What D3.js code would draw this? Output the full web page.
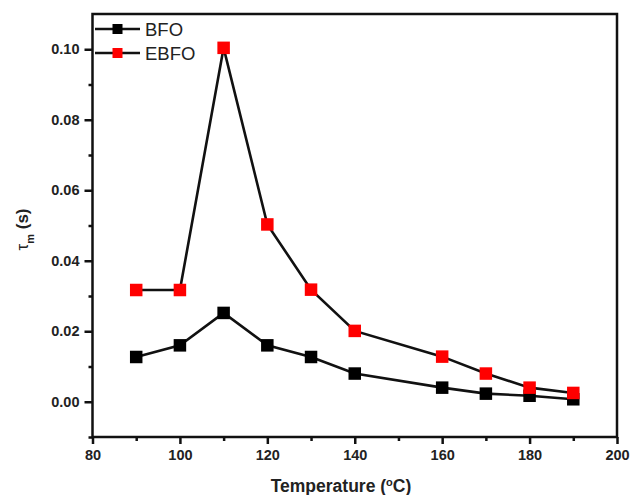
<!DOCTYPE html>
<html>
<head>
<meta charset="utf-8">
<script src="https://cdn.jsdelivr.net/npm/d3@7"></script>
<style>
  body { margin: 0; background: #fff; }
  text { font-family: "Liberation Sans", Arial, sans-serif; }
</style>
</head>
<body>
<svg id="chart"></svg>
<script>
// Temperatures (°C) and relaxation times (s)
const temps = [90, 100, 110, 120, 130, 140, 160, 170, 180, 190];
const bfo   = [0.0127, 0.0160, 0.0252, 0.0160, 0.0127, 0.0080, 0.0040, 0.0023, 0.0017, 0.0007];
const ebfo  = [0.0317, 0.0317, 0.1004, 0.0503, 0.0318, 0.0201, 0.0128, 0.0080, 0.0040, 0.0025];
const seriesNames = ["BFO", "EBFO"];
const seriesColors = ["#000000", "#ff0000"];
const xTicks = [80, 100, 120, 140, 160, 180, 200];
const yTicks = [0.00, 0.02, 0.04, 0.06, 0.08, 0.10];

const width = 630, height = 495;
const margin = { top: 14, right: 13, bottom: 58, left: 92.5 };

const svg = d3.select("#chart").attr("width", width).attr("height", height);

const x = d3.scaleLinear().domain([80, 200]).range([margin.left, width - margin.right]);
const y = d3.scaleLinear().domain([-0.01, 0.11]).range([height - margin.bottom, margin.top]);

// frame
svg.append("rect")
  .attr("x", x(80)).attr("y", y(0.11))
  .attr("width", x(200) - x(80)).attr("height", y(-0.01) - y(0.11))
  .attr("fill", "none").attr("stroke", "#111").attr("stroke-width", 2.5);

// x axis, major + minor
const xAxis = svg.append("g").attr("transform", `translate(0,${y(-0.01)})`);
xAxis.call(d3.axisBottom(x).tickValues(xTicks).tickSize(7).tickPadding(6).tickFormat(d3.format("d")));
xAxis.append("g").call(d3.axisBottom(x).tickValues(d3.range(90, 200, 20)).tickSize(4).tickFormat(""));
xAxis.selectAll(".domain").remove();
xAxis.selectAll("line").attr("stroke", "#111").attr("stroke-width", 2.5);
xAxis.selectAll("text").attr("font-size", 14.5).attr("font-weight", "bold").attr("fill", "#222");

// y axis, major + minor
const yAxis = svg.append("g").attr("transform", `translate(${x(80)},0)`);
yAxis.call(d3.axisLeft(y).tickValues(yTicks).tickSize(8).tickPadding(5).tickFormat(d3.format(".2f")));
yAxis.append("g").call(d3.axisLeft(y).tickValues([-0.01, 0.01, 0.03, 0.05, 0.07, 0.09]).tickSize(4).tickFormat(""));
yAxis.selectAll(".domain").remove();
yAxis.selectAll("line").attr("stroke", "#111").attr("stroke-width", 2.5);
yAxis.selectAll("text").attr("font-size", 14.5).attr("font-weight", "bold").attr("fill", "#222");

// axis titles
const xt = svg.append("text")
  .attr("x", 341).attr("y", 492)
  .attr("text-anchor", "middle").attr("font-size", 17.5).attr("font-weight", "bold").attr("fill", "#222");
xt.append("tspan").text("Temperature (");
xt.append("tspan").attr("baseline-shift", "super").attr("font-size", 11).text("o");
xt.append("tspan").text("C)");

const yt = svg.append("text")
  .attr("transform", `translate(28,${(y(-0.01) + y(0.11)) / 2 + 4}) rotate(-90)`)
  .attr("text-anchor", "middle").attr("font-size", 17).attr("font-weight", "bold").attr("fill", "#222");
yt.append("tspan").attr("font-weight", "normal").text("τ");
yt.append("tspan").attr("baseline-shift", "sub").attr("font-size", 11).text("m");
yt.append("tspan").text(" (s)");

// series
const line = d3.line().x(d => x(d[0])).y(d => y(d[1]));
const allSeries = [bfo, ebfo];
const ms = 12.5;
allSeries.forEach((vals, i) => {
  const pts = temps.map((t, j) => [t, vals[j]]);
  const g = svg.append("g");
  g.append("path").datum(pts).attr("d", line)
    .attr("fill", "none").attr("stroke", "#111").attr("stroke-width", 2.6);
  g.selectAll("rect").data(pts).enter().append("rect")
    .attr("x", d => x(d[0]) - ms / 2).attr("y", d => y(d[1]) - ms / 2)
    .attr("width", ms).attr("height", ms)
    .attr("fill", seriesColors[i]);
});

// legend
seriesNames.forEach((name, i) => {
  const ly = 29 + i * 24;
  const g = svg.append("g");
  g.append("line").attr("x1", 95).attr("x2", 140).attr("y1", ly).attr("y2", ly)
    .attr("stroke", "#111").attr("stroke-width", 2.6);
  g.append("rect").attr("x", 117.5 - 5).attr("y", ly - 5).attr("width", 10).attr("height", 10)
    .attr("fill", seriesColors[i]);
  g.append("text").attr("x", 145).attr("y", ly).attr("dy", "0.36em")
    .attr("font-size", 18.5).attr("fill", "#222").text(name);
});
</script>
</body>
</html>
